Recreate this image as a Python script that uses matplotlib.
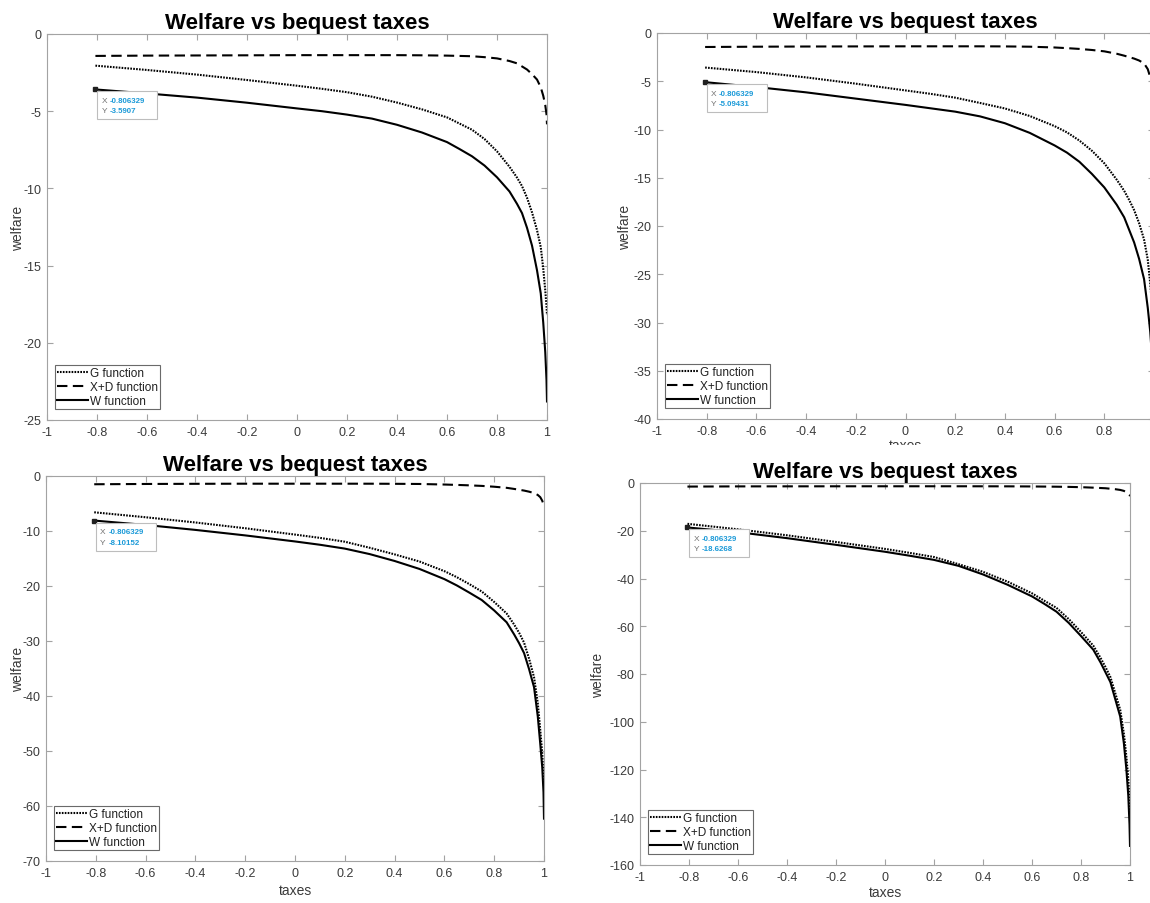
import matplotlib
matplotlib.use("Agg")
import matplotlib.pyplot as plt
import matplotlib.transforms as mtransforms
from matplotlib.patches import Rectangle
from matplotlib.ticker import FuncFormatter
import numpy as np

plt.rcParams['font.family'] = ['Liberation Sans', 'DejaVu Sans']
plt.rcParams['axes.unicode_minus'] = False

# ---------------- data ----------------
taxes = [-0.806329, -0.6, -0.4, -0.2, 0.0, 0.1, 0.2, 0.3, 0.4, 0.5, 0.6, 0.65, 0.7,
         0.75, 0.8, 0.85, 0.88, 0.9, 0.92, 0.94, 0.96, 0.975, 0.985, 0.993, 0.998, 1.0]

G_1 = [-2.05, -2.33, -2.63, -2.98, -3.35, -3.55, -3.77, -4.06, -4.44, -4.88, -5.4, -5.8, -6.2,
       -6.8, -7.6, -8.6, -9.3, -9.85, -10.6, -11.55, -12.7, -13.8, -15.2, -16.6, -17.6, -18.2]
XD_1 = [-1.42, -1.4, -1.39, -1.38, -1.37, -1.37, -1.37, -1.37, -1.37, -1.38, -1.4, -1.42, -1.44,
        -1.5, -1.58, -1.75, -1.9, -2.1, -2.3, -2.6, -2.95, -3.45, -4.0, -4.6, -5.2, -5.85]
W_1 = [-3.5907, -3.85, -4.12, -4.45, -4.82, -5.0, -5.22, -5.48, -5.88, -6.38, -7.0, -7.45, -7.92,
       -8.52, -9.28, -10.2, -11.0, -11.6, -12.55, -13.7, -15.3, -16.8, -18.7, -20.6, -22.4, -23.8]

G_2 = [-3.58, -4.05, -4.6, -5.25, -5.95, -6.3, -6.7, -7.25, -7.82, -8.6, -9.65, -10.3, -11.15,
       -12.2, -13.5, -15.2, -16.35, -17.3, -18.35, -19.7, -21.4, -23.5, -26.0, -28.5, -31.0, -33.0]
XD_2 = [-1.45, -1.42, -1.4, -1.39, -1.38, -1.38, -1.38, -1.38, -1.39, -1.42, -1.5, -1.57, -1.65,
        -1.76, -1.9, -2.15, -2.35, -2.5, -2.65, -2.85, -3.15, -3.75, -4.6, -5.4, -6.2, -7.0]
W_2 = [-5.09431, -5.6, -6.15, -6.8, -7.45, -7.8, -8.15, -8.64, -9.35, -10.35, -11.65, -12.4, -13.35,
       -14.6, -16.0, -17.8, -19.1, -20.4, -21.7, -23.4, -25.5, -28.5, -31.0, -34.0, -37.0, -40.0]

G_3 = [-6.6, -7.5, -8.45, -9.5, -10.65, -11.25, -11.95, -13.05, -14.25, -15.55, -17.3, -18.4, -19.65,
       -21.0, -22.9, -25.0, -27.0, -28.5, -30.3, -33.2, -36.6, -41.3, -46.2, -50.5, -54.5, -56.5]
XD_3 = [-1.5, -1.45, -1.42, -1.4, -1.4, -1.4, -1.4, -1.4, -1.42, -1.45, -1.55, -1.62, -1.7,
        -1.8, -1.95, -2.15, -2.35, -2.5, -2.65, -2.85, -3.1, -3.45, -3.85, -4.5, -5.2, -5.7]
W_3 = [-8.10152, -8.9, -9.8, -10.8, -11.9, -12.5, -13.2, -14.2, -15.45, -16.9, -18.75, -19.9, -21.2,
       -22.55, -24.45, -26.6, -28.8, -30.4, -32.2, -35.1, -38.4, -43.7, -48.7, -53.0, -57.5, -62.3]

G_4 = [-17.1, -19.4, -21.9, -24.7, -27.6, -29.25, -31.0, -34.0, -37.2, -41.3, -46.2, -49.3, -52.3,
       -57.0, -62.4, -68.1, -73.3, -77.1, -81.3, -88.1, -95.0, -105.0, -114.4, -123.9, -133.0, -139.0]
XD_4 = [-1.5, -1.42, -1.4, -1.38, -1.37, -1.37, -1.37, -1.37, -1.38, -1.4, -1.45, -1.5, -1.55,
        -1.63, -1.75, -1.95, -2.1, -2.2, -2.4, -2.6, -2.9, -3.3, -3.9, -4.5, -5.0, -5.5]
W_4 = [-18.6268, -20.6, -23.1, -25.9, -28.8, -30.45, -32.2, -34.7, -38.3, -42.6, -47.5, -50.6, -53.9,
       -58.6, -64.1, -69.8, -75.2, -79.3, -83.4, -90.6, -97.8, -109.0, -119.7, -130.9, -143.0, -152.0]

tip_labels = ["-3.5907", "-5.09431", "-8.10152", "-18.6268"]
x_ticks = [-1, -0.8, -0.6, -0.4, -0.2, 0, 0.2, 0.4, 0.6, 0.8, 1]
y_mins = [-25, -40, -70, -160]
y_steps = [5, 5, 10, 20]
legend_labels = ["G function", "X+D function", "W function"]
title_text = "Welfare vs bequest taxes"

# ---------------- figure ----------------
WPX, HPX = 1150, 904
fig = plt.figure(figsize=(WPX / 100, HPX / 100), dpi=100)

def px_axes(x0, x1, y0, y1, z=0):
    return fig.add_axes([x0 / WPX, 1 - y1 / HPX, (x1 - x0) / WPX, (y1 - y0) / HPX], zorder=z)

# pixel boxes of the four axes: (left, right, top, bottom)
boxes = [(47, 547, 35, 421), (657, 1154, 34, 420), (46, 544, 477, 862), (640, 1130, 484, 866)]
ylab_x = [-0.044, -0.05, -0.042, -0.071]
zorders = [0, 0, 0, 1]
series = [(G_1, XD_1, W_1), (G_2, XD_2, W_2), (G_3, XD_3, W_3), (G_4, XD_4, W_4)]
xlabel_y = [None, -0.048, -0.056, -0.052]

SPINE = '#a3a3a3'
LABEL = '#3a3a3a'
BLUE = '#1c9ad8'

for i in range(4):
    l, r, t, b = boxes[i]
    ax = px_axes(l, r, t, b, zorders[i])
    G, XD, W = series[i]
    hG, = ax.plot(taxes, G, color='black', lw=1.5, linestyle=(0, (0.8, 0.6)))
    hX, = ax.plot(taxes, XD, color='black', lw=1.5, linestyle=(0, (5, 2.6)))
    hW, = ax.plot(taxes, W, color='black', lw=1.5, linestyle='-',
                  solid_joinstyle='round')
    ax.set_xlim(-1, 1)
    ax.set_ylim(y_mins[i], 0)
    # the top-right screenshot is cut before x = 1, so its last label is not shown
    ax.set_xticks(x_ticks if i != 1 else x_ticks[:-1])
    ax.set_yticks(np.arange(y_mins[i], 1, y_steps[i]))
    fmt = FuncFormatter(lambda v, p: '0' if abs(v) < 1e-9 else f'{v:g}')
    ax.xaxis.set_major_formatter(fmt)
    ax.yaxis.set_major_formatter(fmt)
    ax.tick_params(direction='in', length=4, width=0.8, color=SPINE, labelcolor=LABEL,
                   labelsize=9, top=True, right=True, pad=4)
    for s in ax.spines.values():
        s.set_color(SPINE)
        s.set_linewidth(0.8)
    ax.set_title(title_text, fontsize=16, fontweight='bold', pad=4.5, color='black')
    ax.set_ylabel('welfare', fontsize=10, color=LABEL)
    ax.yaxis.set_label_coords(ylab_x[i], 0.5)
    if xlabel_y[i] is not None:
        ax.set_xlabel('taxes', fontsize=10, color=LABEL)
        ax.xaxis.set_label_coords(0.5, xlabel_y[i])

    axw, axh = r - l, b - t
    leg = ax.legend([hG, hX, hW], legend_labels, loc='lower left',
                    bbox_to_anchor=(8 / axw, 11 / axh), borderaxespad=0,
                    fontsize=8.5, frameon=True, fancybox=False, edgecolor='#6a6a6a',
                    handlelength=2.6, handletextpad=0.15, labelspacing=0.15,
                    borderpad=0.2, framealpha=1)
    leg.get_frame().set_linewidth(0.8)
    for txt in leg.get_texts():
        txt.set_color('#202020')

    # data tip
    x0, y0 = taxes[0], W[0]
    ax.plot([x0], [y0], 's', ms=2.2, color='#202020', zorder=6)
    tr = mtransforms.Affine2D() + mtransforms.ScaledTranslation(x0, y0, ax.transData)
    ax.add_patch(Rectangle((2, -30), 60, 28, transform=tr, facecolor='white',
                           edgecolor='#bdbdbd', lw=0.8, zorder=7, clip_on=False))
    ax.text(6, -11, 'X', transform=tr, fontsize=6, color='#707070', va='center', zorder=8)
    ax.text(14, -11, '-0.806329', transform=tr, fontsize=5.7, color=BLUE,
            fontweight='bold', va='center', zorder=8)
    ax.text(6, -21.5, 'Y', transform=tr, fontsize=6, color='#707070', va='center', zorder=8)
    ax.text(14, -21.5, tip_labels[i], transform=tr, fontsize=5.7, color=BLUE,
            fontweight='bold', va='center', zorder=8)

# cover the lower part of the top-right panel's x label (screenshot overlap)
fig.patches.append(Rectangle((575 / WPX, 0), 1 - 575 / WPX, (HPX - 446) / HPX,
                             transform=fig.transFigure, facecolor='white',
                             edgecolor='none', zorder=0.5))

fig.savefig('out.png', dpi=100)
